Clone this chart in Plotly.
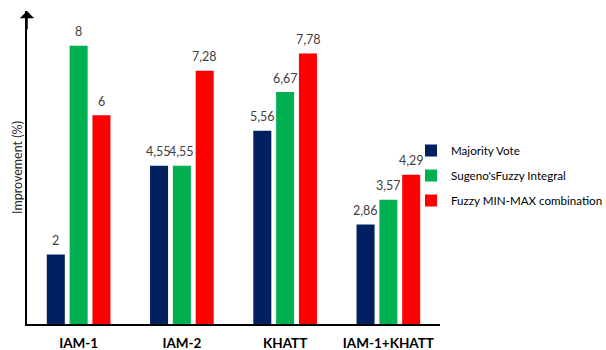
import plotly.graph_objects as go

categories = ["IAM-1", "IAM-2", "KHATT", "IAM-1+KHATT"]
series_names = ["Majority Vote", "Sugeno'sFuzzy Integral", "Fuzzy MIN-MAX combination"]
majority_vote = [2, 4.55, 5.56, 2.86]
sugeno_fuzzy = [8, 4.55, 6.67, 3.57]
fuzzy_minmax = [6, 7.28, 7.78, 4.29]
colors = ["#002060", "#00B050", "#FF0000"]

FONT = "Lato, 'Open Sans', sans-serif"
all_series = [majority_vote, sugeno_fuzzy, fuzzy_minmax]

def fmt(v):
    s = ("%g" % v)
    return s.replace(".", ",")

fig = go.Figure()
for name, vals, col in zip(series_names, all_series, colors):
    fig.add_trace(go.Bar(
        name=name, x=categories, y=vals,
        marker=dict(color=col, line=dict(width=0)),
        legendgroup=name,
    ))

# data labels as annotations above each bar
shifts = [-23, 0, 23]
for vals, dx in zip(all_series, shifts):
    for c, v in zip(categories, vals):
        fig.add_annotation(
            x=c, y=v, xref="x", yref="y", text=fmt(v), showarrow=False,
            xshift=dx, yshift=14, yanchor="middle",
            font=dict(family=FONT, size=12.5, color="#404040"),
        )

# arrow at top of y axis
fig.add_annotation(
    x=0, y=1, xref="paper", yref="paper", showarrow=True,
    ax=0, ay=20, axref="pixel", ayref="pixel",
    arrowhead=1, arrowsize=1.6, arrowwidth=1.5, arrowcolor="black", text="",
    standoff=0,
)

PW = 606 - 27 - 166
PH = 350 - 11 - 26
fig.update_layout(
    width=606, height=350,
    margin=dict(l=27, r=166, t=11, b=26, autoexpand=False),
    paper_bgcolor="white", plot_bgcolor="white",
    barmode="group", bargap=0.337, bargroupgap=0.21,
    font=dict(family=FONT, size=12, color="#404040"),
    showlegend=True,
    legend=dict(
        x=(411 - 27) / PW, xref="paper", y=0.5 - 8 / PH, yanchor="middle",
        font=dict(family=FONT, size=11.6, color="#000000"),
        tracegroupgap=6, bgcolor="rgba(0,0,0,0)",
    ),
    xaxis=dict(
        showline=True, linecolor="black", linewidth=1.5,
        ticks="", showgrid=False, zeroline=False,
        tickfont=dict(family=FONT, size=13.5, color="black", weight="bold"),
        ticklabelstandoff=6,
    ),
    yaxis=dict(
        range=[0, 9], showline=True, linecolor="black", linewidth=1.5,
        showticklabels=False, ticks="", showgrid=False, zeroline=False,
        title=dict(text="Improvement (%)", standoff=0,
                   font=dict(family=FONT, size=12.5, color="#262626")),
    ),
)

fig.write_html("out.html")
